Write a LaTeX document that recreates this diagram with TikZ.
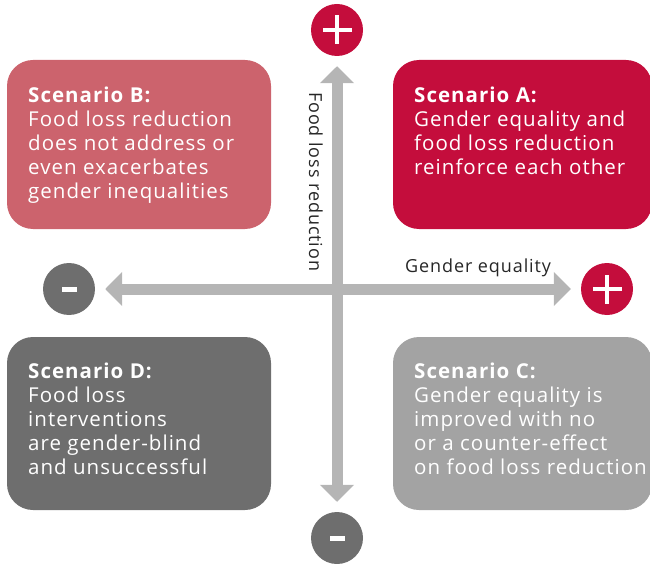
\documentclass[tikz,border=0pt]{standalone}
\usepackage{fontspec}
\setmainfont{Open Sans}[LetterSpace=5]
\usetikzlibrary{arrows.meta}
\definecolor{cA}{HTML}{C40D3C}
\definecolor{cB}{HTML}{CC636D}
\definecolor{cC}{HTML}{A3A3A3}
\definecolor{cD}{HTML}{6E6E6E}
\definecolor{cAx}{HTML}{B5B5B5}
\begin{document}
\begin{tikzpicture}[x=1pt,y=-1pt,
  scen/.style={rounded corners=26pt, draw=none},
  stext/.style={anchor=north west, inner sep=0pt, align=left, text=white,
    font=\fontsize{20.5}{24}\selectfont},
  sign/.style={circle, minimum size=52pt, inner sep=0pt, draw=none},
  axis/.style={draw=cAx, line width=11pt,
    {Triangle[width=33pt,length=17pt]}-{Triangle[width=33pt,length=17pt]}, shorten >=10pt, shorten <=10pt},
  axlab/.style={inner sep=0pt, font=\fontsize{18}{20}\selectfont, text=black!85}]
\useasboundingbox (0,0) rectangle (650,564);
\begin{scope}
\clip (0,0) rectangle (650,564);
\fill[cB, scen] (7,60) rectangle (271,229);
\fill[cA, scen] (393,60) rectangle (652,229);
\fill[cD, scen] (7,337) rectangle (271,510);
\fill[cC, scen] (393,337) rectangle (652,510);
\end{scope}
\node[stext] (tB) at (28,86.4) {\textbf{Scenario B:}\\Food loss reduction\\does not address or\\even exacerbates\\gender inequalities};
\node[stext] (tA) at (414,86.4) {\textbf{Scenario A:}\\Gender equality and\\food loss reduction\\reinforce each other};
\node[stext] (tD) at (28,362.4) {\textbf{Scenario D:}\\Food loss\\interventions\\are gender-blind\\and unsuccessful};
\node[stext] (tC) at (414,362.4) {\textbf{Scenario C:}\\Gender equality is\\improved with no\\or a counter-effect\\on food loss reduction};
\node[sign, fill=cA] (tp) at (337,30) {};
\node[sign, fill=cD] (bm) at (337,538) {};
\node[sign, fill=cD] (lm) at (69,289) {};
\node[sign, fill=cA] (rp) at (607,289) {};
\foreach \n in {tp,rp}{
  \fill[white] ([xshift=-14.5pt,yshift=-2pt]\n.center) rectangle ([xshift=14.5pt,yshift=2pt]\n.center);
  \fill[white] ([xshift=-2pt,yshift=-14.5pt]\n.center) rectangle ([xshift=2pt,yshift=14.5pt]\n.center);
}
\foreach \n in {lm,bm}{
  \fill[white] ([xshift=-7.5pt,yshift=-2.5pt]\n.center) rectangle ([xshift=7.5pt,yshift=2.5pt]\n.center);
}
\draw[axis] (lm) -- (rp);
\draw[axis] (bm) -- (tp);
\node[axlab, anchor=base west] (gl) at (405,272) {Gender equality};
\node[axlab, rotate=-90, anchor=base west] (fl) at (309,92) {Food loss reduction};
\end{tikzpicture}
\end{document}
